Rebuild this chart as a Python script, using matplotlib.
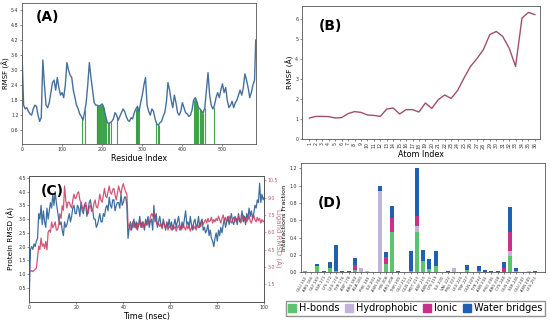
import numpy as np
import matplotlib
matplotlib.use("Agg")
import matplotlib.pyplot as plt
from matplotlib.patches import Patch

# ---------------- Panel A data: protein RMSF ----------------
residues = np.r_[np.arange(0, 581, 4), 583]
rmsf_protein = [
    3.7, 1.6, 1.45, 1.5, 1.35, 1.25, 1.2, 1.45, 1.6, 1.55,
    1.2, 0.95, 1.1, 3.4, 2.4, 1.6, 1.5, 1.7, 2.1, 2.5,
    2.6, 2.2, 2.7, 2.3, 2.0, 2.1, 1.9, 2.4, 3.3, 3.0,
    2.8, 2.7, 2.2, 1.9, 1.6, 1.45, 1.25, 1.15, 1.0, 1.3,
    1.7, 2.4, 3.3, 2.7, 2.2, 1.7, 1.6, 1.6, 1.55, 1.6,
    1.65, 1.5, 1.2, 0.95, 0.85, 0.9, 0.95, 1.05, 1.3, 1.2,
    1.0, 1.15, 1.3, 1.45, 1.35, 1.15, 1.0, 0.95, 1.1, 1.05,
    1.3, 1.45, 1.55, 1.35, 1.7, 2.0, 2.4, 2.7, 1.6, 1.35,
    1.2, 1.45, 1.35, 1.05, 0.85, 0.8, 0.9, 0.95, 1.15, 1.3,
    1.7, 2.5, 2.2, 1.8, 1.5, 2.0, 1.7, 1.3, 1.2, 1.35,
    1.7, 1.5, 1.3, 1.25, 1.15, 1.2, 1.4, 1.8, 1.9, 1.75,
    1.5, 1.45, 1.35, 1.3, 1.5, 2.2, 2.9, 2.0, 1.6, 1.45,
    1.6, 1.9, 2.1, 1.9, 2.2, 2.45, 2.1, 2.3, 1.8, 1.5,
    1.6, 1.75, 1.5, 1.7, 1.8, 2.0, 2.2, 2.0, 2.3, 2.85,
    2.6, 2.3, 1.9, 2.1, 2.4, 2.6, 4.2,
]
contact_residues = [149, 157, 186, 188, 190, 192, 195, 197, 199, 201, 204,
                    207, 210, 214, 218, 221, 238, 284, 286, 288, 290, 293,
                    335, 338, 341, 428, 431, 434, 437, 440, 443, 446, 449,
                    452, 456, 478]

# ---------------- Panel B data: ligand RMSF ----------------
atom_index = list(range(1, 37))
rmsf_ligand = [1.05, 1.13, 1.13, 1.12, 1.05, 1.07, 1.27, 1.37, 1.33, 1.2,
               1.18, 1.13, 1.5, 1.55, 1.25, 1.47, 1.47, 1.35, 1.8, 1.53,
               1.97, 2.2, 2.03, 2.43, 3.05, 3.63, 4.02, 4.47, 5.22, 5.38,
               5.13, 4.55, 3.63, 6.05, 6.33, 6.22]

# ---------------- Panel C data: RMSD time series ----------------
time_ns = np.arange(0, 100.01, 0.5)
protein_rmsd = [
    0.3, 1.9, 2.0, 1.9, 2.1, 2.0, 2.2, 2.3, 3.2, 3.0, 3.5, 2.8, 3.3, 2.9, 2.7, 3.4, 3.0, 3.3, 3.6, 3.4,
    3.9, 3.5, 4.0, 3.6, 3.3, 3.0, 2.8, 2.9, 2.6, 2.4, 2.9, 2.7, 2.8, 3.0, 3.2, 2.9, 3.1, 3.4, 3.5, 3.2,
    3.2, 3.5, 3.4, 3.1, 3.6, 3.3, 3.2, 3.5, 3.5, 3.1, 3.3, 3.6, 3.7, 3.4, 3.3, 3.0, 3.0, 2.7, 2.8, 3.0,
    3.2, 2.9, 2.9, 3.2, 3.1, 3.4, 3.5, 3.3, 3.8, 3.5, 3.4, 3.7, 3.7, 3.3, 3.5, 3.6, 3.6, 3.4, 3.9, 3.5,
    3.6, 3.8, 3.8, 3.5, 2.3, 2.7, 2.9, 2.6, 2.8, 3.0, 2.7, 2.9, 2.6, 2.8, 3.1, 2.7, 2.9, 2.8, 2.6, 3.0,
    2.8, 3.1, 2.7, 2.9, 3.0, 2.6, 3.5, 2.9, 3.2, 2.7, 2.9, 3.1, 2.8, 2.7, 3.0, 2.8, 2.6, 2.9, 2.7, 3.0,
    2.7, 2.9, 2.6, 2.8, 3.0, 2.7, 2.9, 3.1, 2.8, 2.6, 2.9, 2.7, 3.0, 3.3, 2.8, 2.9, 2.7, 3.1, 2.8, 2.6,
    2.9, 3.0, 2.7, 2.8, 3.1, 2.7, 2.9, 3.0, 2.6, 2.7, 2.5, 2.6, 2.8, 2.4, 2.6, 2.3, 2.2, 2.0, 2.3, 2.5,
    2.2, 2.6, 2.4, 2.7, 2.5, 2.8, 3.0, 2.7, 2.9, 3.1, 2.8, 3.0, 3.2, 2.9, 2.8, 3.1, 3.0, 2.8, 3.2, 2.9,
    3.0, 3.3, 2.9, 3.1, 2.8, 3.2, 3.0, 3.4, 3.1, 3.3, 3.0, 3.2, 3.5, 3.4, 3.7, 3.6, 4.3, 3.6, 3.9, 3.7,
    3.8,
]
ligand_rmsd = [
    2.6, 2.6, 2.7, 2.6, 2.7, 2.8, 2.9, 3.8, 4.8, 4.5, 5.5, 4.8, 5.0, 4.6, 5.2, 4.5, 6.0, 6.2, 6.0, 6.9,
    6.4, 6.6, 6.9, 6.2, 6.2, 6.6, 7.6, 7.2, 8.3, 7.9, 10.0, 8.8, 8.1, 8.6, 8.6, 8.3, 8.1, 8.8, 9.3, 8.9,
    9.0, 9.4, 9.5, 8.8, 8.6, 8.2, 7.9, 8.4, 8.6, 8.0, 7.6, 8.2, 8.3, 7.8, 7.9, 8.5, 8.8, 8.2, 8.1, 8.6,
    9.3, 8.8, 8.6, 9.2, 9.8, 9.1, 9.0, 9.5, 10.0, 9.4, 9.3, 9.7, 9.8, 9.2, 8.8, 9.4, 10.0, 9.6, 9.3, 9.9,
    10.2, 9.8, 9.5, 9.3, 6.7, 6.5, 6.2, 6.6, 6.9, 6.4, 6.7, 6.3, 6.8, 6.5, 7.0, 6.6, 6.4, 6.9, 6.5, 6.8,
    6.6, 7.0, 6.8, 7.3, 7.6, 7.4, 7.8, 7.2, 6.9, 6.6, 6.8, 6.5, 6.7, 6.3, 6.9, 6.6, 6.4, 6.8, 6.2, 6.5,
    6.4, 6.2, 6.6, 6.3, 6.5, 6.1, 6.4, 6.6, 6.2, 6.5, 6.3, 6.7, 6.4, 6.2, 6.6, 6.3, 6.5, 6.1, 6.4, 6.6,
    6.3, 6.5, 6.2, 6.6, 6.4, 6.8, 6.5, 7.0, 6.7, 6.9, 7.1, 6.8, 7.2, 6.9, 7.0, 7.3, 6.8, 7.1, 6.9, 7.2,
    7.0, 7.4, 7.1, 6.8, 7.2, 7.5, 7.0, 7.3, 6.9, 7.2, 7.4, 7.0, 6.8, 7.1, 7.3, 6.9, 7.2, 7.0, 7.4, 7.1,
    6.8, 7.2, 7.5, 7.0, 7.3, 6.9, 7.1, 7.4, 7.0, 6.8, 7.2, 7.5, 7.1, 6.9, 7.3, 7.0, 7.2, 6.8, 7.1, 6.9,
    7.0,
]

# ---------------- Panel D data: interaction fractions ----------------
contact_labels = ["GLU 152", "ARG 166", "GLY 169", "SER 171", "LYS 172", "LEU 174",
                  "TYR 176", "ASP 178", "ARG 180", "ALA 181", "PHE 183", "ILE 201",
                  "ASN 204", "HIS 206", "ARG 208", "THR 209", "GLU 211", "GLN 212",
                  "MET 213", "ASP 215", "ASN 217", "LYS 219", "ILE 220", "VAL 222",
                  "PRO 223", "LEU 225", "TRP 227", "GLN 229", "TYR 232", "ASN 234",
                  "PRO 236", "ARG 238", "CYS 240", "GLN 243", "SER 245", "GLU 247",
                  "ASN 249", "LEU 251"]
hbonds      = [0.02, 0.0, 0.07, 0.0, 0.05, 0.01, 0.0, 0.0, 0.03, 0.0, 0.0, 0.0,
               0.0, 0.10, 0.46, 0.0, 0.0, 0.02, 0.47, 0.13, 0.04, 0.07, 0.0, 0.0,
               0.0, 0.0, 0.03, 0.0, 0.02, 0.0, 0.0, 0.0, 0.0, 0.19, 0.02, 0.0,
               0.0, 0.0]
hydrophobic = [0.0, 0.0, 0.0, 0.0, 0.0, 0.0, 0.0, 0.0, 0.0, 0.05, 0.01, 0.0,
               0.94, 0.0, 0.0, 0.0, 0.0, 0.0, 0.06, 0.0, 0.0, 0.0, 0.0, 0.0,
               0.05, 0.0, 0.0, 0.0, 0.0, 0.0, 0.0, 0.0, 0.0, 0.05, 0.0, 0.0,
               0.01, 0.0]
ionic       = [0.0, 0.0, 0.0, 0.0, 0.0, 0.0, 0.0, 0.0, 0.06, 0.0, 0.0, 0.0,
               0.0, 0.08, 0.17, 0.0, 0.0, 0.0, 0.12, 0.0, 0.0, 0.0, 0.0, 0.0,
               0.0, 0.0, 0.0, 0.0, 0.0, 0.0, 0.0, 0.0, 0.05, 0.22, 0.0, 0.0,
               0.0, 0.0]
water       = [0.0, 0.0, 0.03, 0.01, 0.07, 0.31, 0.01, 0.01, 0.08, 0.0, 0.0, 0.0,
               0.06, 0.05, 0.13, 0.01, 0.0, 0.22, 0.55, 0.13, 0.11, 0.18, 0.0, 0.01,
               0.0, 0.0, 0.05, 0.0, 0.05, 0.03, 0.01, 0.01, 0.07, 0.29, 0.03, 0.0,
               0.0, 0.01]

# ---------------- Figure ----------------
plt.rcParams['font.family'] = ['DejaVu Sans']
fig = plt.figure(figsize=(5.5, 3.2), dpi=100)
TICK = 3.4
LAB = 5.8
SPINE = '#555555'

def style(ax):
    for s in ax.spines.values():
        s.set_color(SPINE)
        s.set_linewidth(0.6)
    ax.tick_params(labelsize=TICK, length=1.5, width=0.4, pad=1, colors='#333333')

# Panel A
axA = fig.add_axes([0.040, 0.55, 0.425, 0.441])
vals = np.interp(contact_residues, residues, rmsf_protein)
axA.vlines(contact_residues, 0, vals, color='#2e9a3a', lw=0.8, alpha=0.9)
axA.plot(residues, rmsf_protein, color='#46709c', lw=1.0)
axA.set_xlim(0, 583)
axA.set_ylim(0.05, 5.68)
axA.set_yticks([0.6, 1.2, 1.8, 2.4, 3.0, 3.6, 4.2, 4.8, 5.4])
axA.set_xticks([0, 100, 200, 300, 400, 500])
axA.set_xlabel('Residue Index', fontsize=LAB, labelpad=1)
axA.set_ylabel('RMSF (Å)', fontsize=5.0)
axA.yaxis.set_label_coords(-0.052, 0.5)
axA.text(0.06, 0.87, '(A)', transform=axA.transAxes, fontsize=10, fontweight='bold')
style(axA)

# Panel B
axB = fig.add_axes([0.5486, 0.5656, 0.4333, 0.4156])
axB.plot(atom_index, rmsf_ligand, color='#a0506a', lw=1.0)
axB.set_xlim(-0.2, 36.8)
axB.set_ylim(0, 6.65)
axB.set_xticks(atom_index)
axB.set_xticklabels([str(a) for a in atom_index], rotation=90)
axB.set_yticks(range(0, 7))
axB.set_xlabel('Atom Index', fontsize=LAB, labelpad=1)
axB.set_ylabel('RMSF (Å)', fontsize=LAB - 0.5, labelpad=1)
axB.text(0.07, 0.82, '(B)', transform=axB.transAxes, fontsize=10, fontweight='bold')
style(axB)

# Panel C
axC = fig.add_axes([0.0533, 0.0572, 0.4273, 0.394])
axC.plot(time_ns, protein_rmsd, color='#3f6e9e', lw=0.9)
axC.set_xlim(0, 100)
axC.set_ylim(0, 4.58)
axC.set_yticks([0.5, 1.0, 1.5, 2.0, 2.5, 3.0, 3.5, 4.0, 4.5])
axC.set_xticks([0, 20, 40, 60, 80, 100])
axC.set_xlabel('Time (nsec)', fontsize=LAB, labelpad=1)
axC.set_ylabel('Protein RMSD (Å)', fontsize=LAB - 0.5)
axC.yaxis.set_label_coords(-0.06, 0.5)
axC2 = axC.twinx()
axC2.plot(time_ns, ligand_rmsd, color='#c8385e', lw=0.9, alpha=0.85)
axC2.set_ylim(0, 10.9)
axC2.set_yticks([1.5, 3.0, 4.5, 6.0, 7.5, 9.0, 10.5])
axC2.set_ylabel('Ligand RMSD (Å)', fontsize=LAB - 0.8, color='#c07a88', rotation=270)
axC2.yaxis.set_label_coords(1.075, 0.5)
style(axC2)
axC2.tick_params(axis='y', colors='#b06070')
style(axC)
axC.text(0.05, 0.85, '(C)', transform=axC.transAxes, fontsize=10, fontweight='bold')

# Panel D
axD = fig.add_axes([0.5467, 0.149, 0.444, 0.3416])
xD = np.arange(len(contact_labels))
c_hb, c_hy, c_io, c_wb = '#5cc46e', '#c3b3da', '#c8308c', '#2160b0'
b1 = np.array(hbonds)
b2 = b1 + np.array(hydrophobic)
b3 = b2 + np.array(ionic)
axD.bar(xD, hbonds, width=0.65, color=c_hb)
axD.bar(xD, hydrophobic, width=0.65, bottom=b1, color=c_hy)
axD.bar(xD, ionic, width=0.65, bottom=b2, color=c_io)
axD.bar(xD, water, width=0.65, bottom=b3, color=c_wb)
axD.set_xlim(-0.7, 38.6)
axD.set_ylim(0, 1.26)
axD.set_yticks([0.0, 0.2, 0.4, 0.6, 0.8, 1.0, 1.2])
axD.set_xticks(xD)
axD.set_xticklabels(contact_labels, rotation=60, ha='right', rotation_mode='anchor', fontsize=2.8)
axD.set_ylabel('Interactions Fraction', fontsize=LAB - 1.2)
axD.yaxis.set_label_coords(-0.055, 0.5)
axD.text(0.07, 0.6, '(D)', transform=axD.transAxes, fontsize=10, fontweight='bold')
style(axD)
axD.tick_params(axis='x', labelsize=2.8)

handles = [Patch(color=c_hb, label='H-bonds'), Patch(color=c_hy, label='Hydrophobic'),
           Patch(color=c_io, label='Ionic'), Patch(color=c_wb, label='Water bridges')]
fig.legend(handles=handles, loc='center', bbox_to_anchor=(0.755, 0.037), ncol=4,
           fontsize=7.0, frameon=True, fancybox=False, edgecolor='#777777',
           handlelength=0.8, handleheight=0.8, handletextpad=0.3, columnspacing=0.6,
           borderpad=0.25, borderaxespad=0)

fig.savefig('out.png', dpi=100)
